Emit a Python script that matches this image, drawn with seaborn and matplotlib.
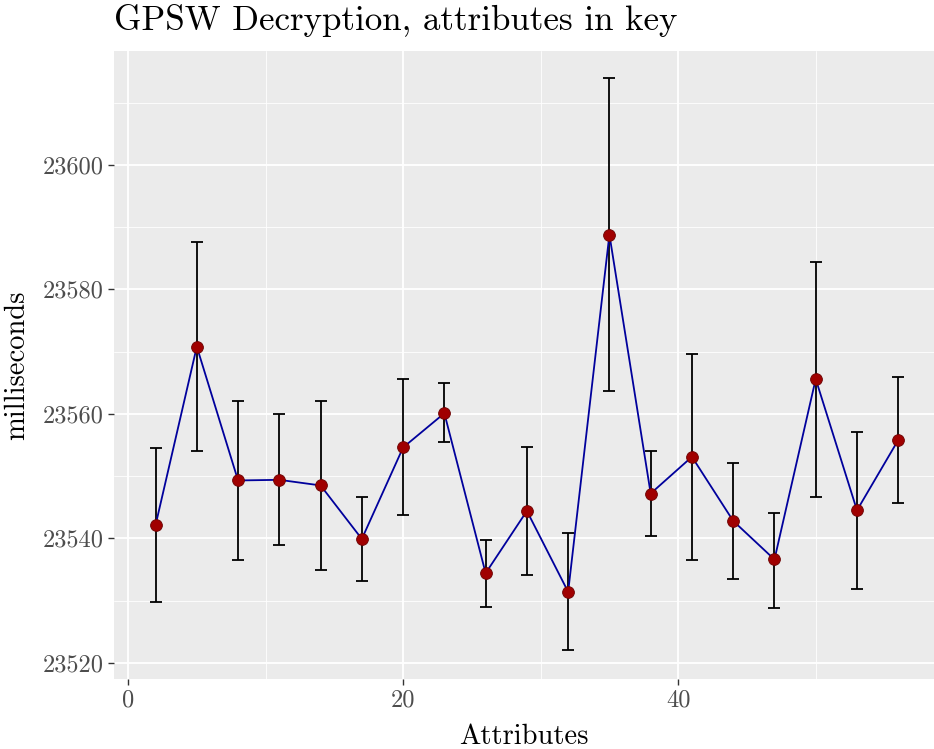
import matplotlib
matplotlib.use("Agg")
import matplotlib.pyplot as plt
from matplotlib.ticker import FixedLocator
import seaborn as sns
import pandas as pd

# Decryption timings (ms) by number of attributes in the key
attributes = [2, 5, 8, 11, 14, 17, 20, 23, 26, 29, 32, 35, 38, 41, 44, 47, 50, 53, 56]
mean_ms = [23542.1, 23570.8, 23549.3, 23549.4, 23548.5, 23539.9, 23554.6, 23560.1,
           23534.4, 23544.4, 23531.4, 23588.8, 23547.2, 23553.1, 23542.8, 23536.6,
           23565.6, 23544.5, 23555.8]
upper_ms = [23554.5, 23587.6, 23562.0, 23560.0, 23562.0, 23546.7, 23565.6, 23564.9,
            23539.8, 23554.6, 23540.8, 23614.0, 23554.0, 23569.6, 23552.1, 23544.1,
            23584.4, 23557.1, 23565.9]
lower_ms = [23529.7, 23554.1, 23536.5, 23538.9, 23534.9, 23533.2, 23543.7, 23555.4,
            23528.9, 23534.1, 23522.0, 23563.6, 23540.3, 23536.5, 23533.5, 23528.8,
            23546.6, 23531.8, 23545.7]

x_ticks = [0, 20, 40]
x_minor = [10, 30, 50]
y_ticks = [23520, 23540, 23560, 23580, 23600]
y_minor = [23530, 23550, 23570, 23590, 23610]
y_tick_labels = ["23520", "23540", "23560", "23580", "23600"]

df = pd.DataFrame({"Attributes": attributes, "ms": mean_ms,
                   "lo": lower_ms, "hi": upper_ms})

sns.set_theme(style="darkgrid", rc={
    "axes.facecolor": "#EBEBEB",
    "grid.color": "white",
    "axes.edgecolor": "none",
})
plt.rcParams["font.family"] = ["cmr10", "DejaVu Serif"]
plt.rcParams["axes.formatter.use_mathtext"] = True
plt.rcParams["mathtext.fontset"] = "cm"

fig = plt.figure(figsize=(9.34, 7.49), dpi=100)
ax = fig.add_axes([114 / 934, 70 / 749, 820 / 934, 628 / 749])

# error bars
ax.errorbar(df["Attributes"], df["ms"],
            yerr=[df["ms"] - df["lo"], df["hi"] - df["ms"]],
            fmt="none", ecolor="black", elinewidth=1.3, capsize=4.2,
            capthick=1.3, zorder=2)

# connecting line and points
sns.lineplot(data=df, x="Attributes", y="ms", ax=ax, color="#00009C",
             linewidth=1.3, zorder=3, estimator=None, sort=False)
sns.scatterplot(data=df, x="Attributes", y="ms", ax=ax, color="#A00000",
                edgecolor="#6A0000", linewidth=0.6, s=72, zorder=4)

ax.set_xlim(-1.02, 58.6)
ax.set_ylim(23517.4, 23618.3)

ax.xaxis.set_major_locator(FixedLocator(x_ticks))
ax.xaxis.set_minor_locator(FixedLocator(x_minor))
ax.yaxis.set_major_locator(FixedLocator(y_ticks))
ax.yaxis.set_minor_locator(FixedLocator(y_minor))
ax.set_yticklabels(y_tick_labels)
ax.set_xticklabels([str(v) for v in x_ticks])

ax.grid(which="major", color="white", linewidth=1.3)
ax.grid(which="minor", color="white", linewidth=0.6)
ax.set_axisbelow(True)

ax.tick_params(axis="both", which="major", length=4.5, width=1.0,
               color="#333333", labelcolor="#4D4D4D", labelsize=17.5, pad=3,
               bottom=True, left=True)
ax.tick_params(axis="both", which="minor", length=0)

ax.set_xlabel("Attributes", fontsize=20.5, color="black", labelpad=9)
ax.set_ylabel("milliseconds", fontsize=20.5, color="black", labelpad=9)
ax.set_title("GPSW Decryption, attributes in key", fontsize=25.2, loc="left",
             color="black", pad=15)

for s in ax.spines.values():
    s.set_visible(False)

fig.savefig("out.png", dpi=100)
